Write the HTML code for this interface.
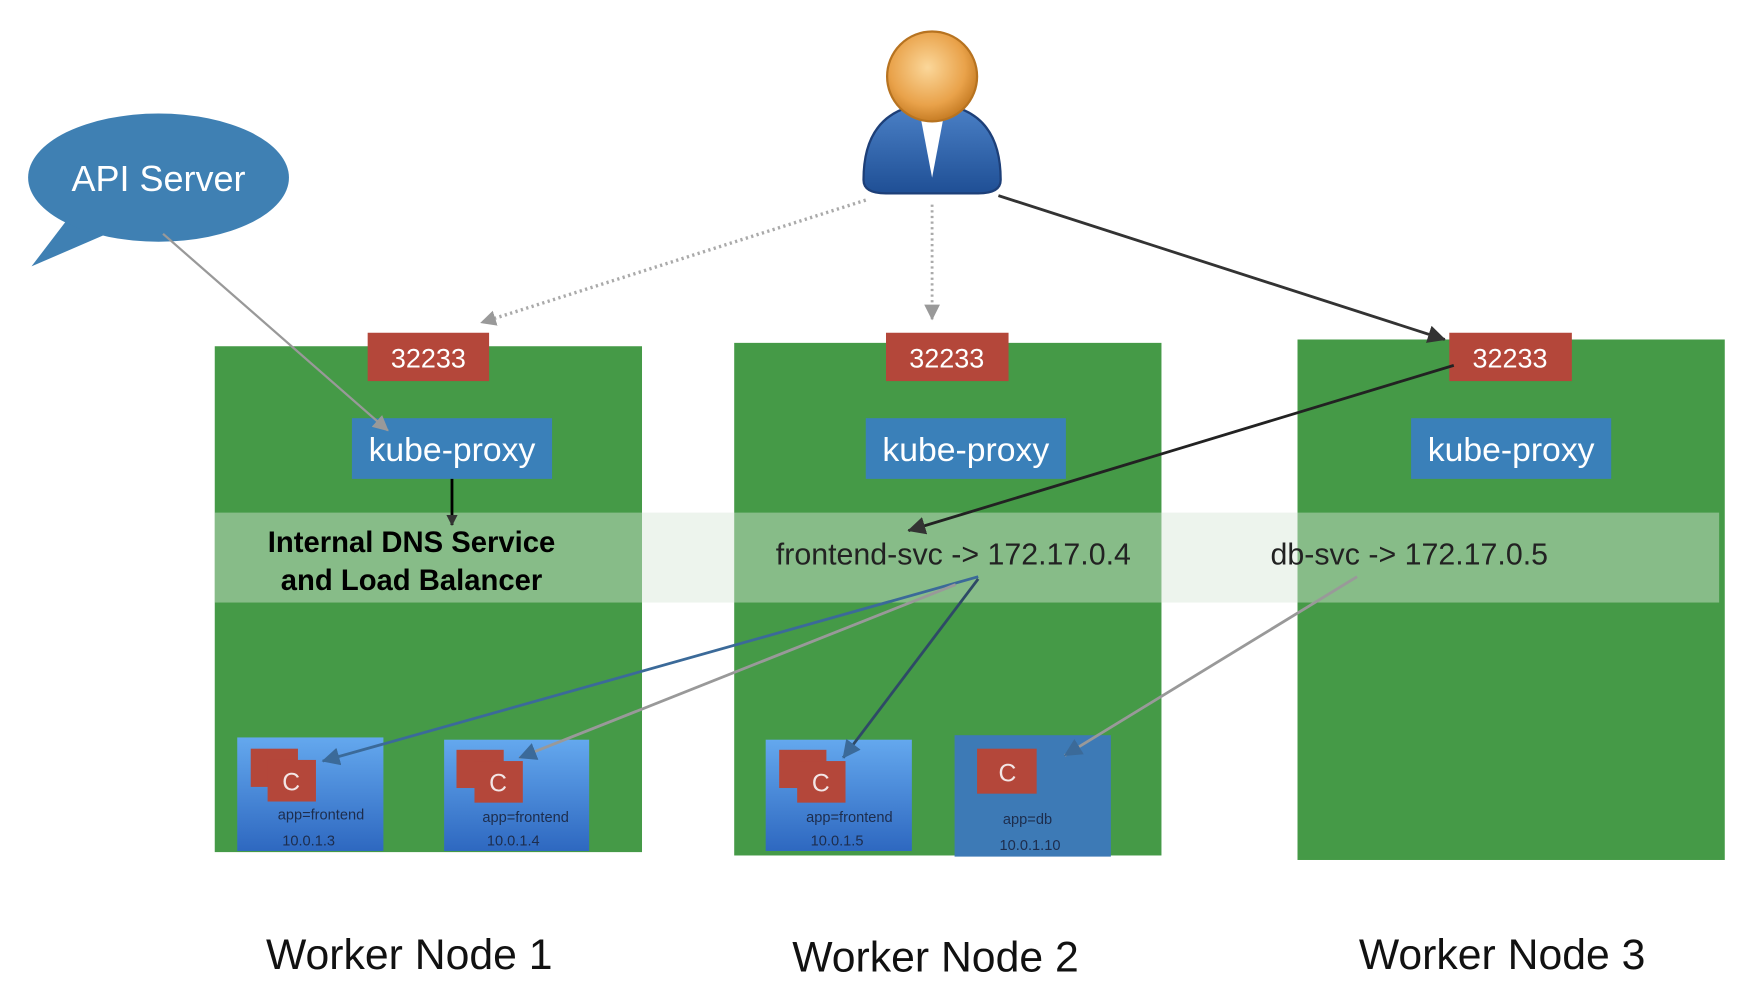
<!DOCTYPE html>
<html><head><meta charset="utf-8"><style>
html,body{margin:0;padding:0;background:#fff;}
svg{display:block;font-family:"Liberation Sans",sans-serif;}
</style></head><body>
<svg width="1754" height="996" viewBox="0 0 1560 886" preserveAspectRatio="none" xmlns="http://www.w3.org/2000/svg">
<defs>
<linearGradient id="pod" x1="0" y1="0" x2="0" y2="1"><stop offset="0" stop-color="#64a8ee"/><stop offset="1" stop-color="#2e68c0"/></linearGradient>
<radialGradient id="head" cx="0.45" cy="0.4" r="0.6"><stop offset="0" stop-color="#fbd79a"/><stop offset="0.7" stop-color="#e9a24a"/><stop offset="1" stop-color="#c77d25"/></radialGradient>
<linearGradient id="body" x1="0" y1="0" x2="0" y2="1"><stop offset="0" stop-color="#4c82c8"/><stop offset="1" stop-color="#1f4f95"/></linearGradient>
<marker id="ab" markerWidth="10" markerHeight="10" refX="9" refY="5" orient="auto" markerUnits="userSpaceOnUse"><path d="M0,0 L10,5 L0,10 z" fill="#333"/></marker>
<marker id="ag" markerWidth="14" markerHeight="14" refX="13" refY="7" orient="auto" markerUnits="userSpaceOnUse"><path d="M0,0 L14,7 L0,14 z" fill="#999"/></marker>
<marker id="ad" markerWidth="16" markerHeight="16" refX="15" refY="8" orient="auto" markerUnits="userSpaceOnUse"><path d="M0,0 L16,8 L0,16 z" fill="#333"/></marker>
<marker id="au" markerWidth="16" markerHeight="16" refX="15" refY="8" orient="auto" markerUnits="userSpaceOnUse"><path d="M0,0 L16,8 L0,16 z" fill="#3b6a99"/></marker>
</defs>

<!-- API bubble -->
<path d="M60,195 L28,237 L95,208 z" fill="#3f80b3"/>
<ellipse cx="141" cy="158" rx="116" ry="57" fill="#3f80b3"/>
<text x="141" y="170" font-size="32" fill="#fff" text-anchor="middle">API Server</text>

<!-- person -->
<path d="M768,160 Q768,95 829,92 Q890,95 890,160 Q890,172 870,172 L788,172 Q768,172 768,160 z" fill="url(#body)" stroke="#1d3f78" stroke-width="2"/>
<path d="M818,100 L829,158 L840,100 z" fill="#fff"/>
<circle cx="829" cy="68" r="40" fill="url(#head)" stroke="#b77320" stroke-width="2"/>

<!-- green nodes -->
<rect x="191" y="308" width="380" height="450" fill="#459a47"/>
<rect x="653" y="305" width="380" height="456" fill="#459a47"/>
<rect x="1154" y="302" width="380" height="463" fill="#459a47"/>

<!-- band -->
<rect x="191" y="456" width="1338" height="80" fill="#d6e6d6" fill-opacity="0.45"/>

<!-- ports -->
<g fill="#b4473a"><rect x="327" y="296" width="108" height="43"/><rect x="788" y="296" width="109" height="43"/><rect x="1289" y="296" width="109" height="43"/></g>
<g font-size="24" fill="#fff" text-anchor="middle"><text x="381" y="327">32233</text><text x="842" y="327">32233</text><text x="1343" y="327">32233</text></g>

<!-- kube-proxy -->
<g fill="#3a80b9"><rect x="313" y="372" width="178" height="54"/><rect x="770" y="372" width="178" height="54"/><rect x="1255" y="372" width="178" height="54"/></g>
<g font-size="30" fill="#fff" text-anchor="middle"><text x="402" y="410">kube-proxy</text><text x="859" y="410">kube-proxy</text><text x="1344" y="410">kube-proxy</text></g>

<!-- band text -->
<g font-size="26" font-weight="bold" fill="#000" text-anchor="middle"><text x="366" y="491">Internal DNS Service</text><text x="366" y="525">and Load Balancer</text></g>
<text x="690" y="502" font-size="27" fill="#222">frontend-svc -&gt; 172.17.0.4</text>
<text x="1130" y="502" font-size="27" fill="#222">db-svc -&gt; 172.17.0.5</text>

<!-- pods -->
<rect x="211" y="656" width="130" height="101" fill="url(#pod)"/>
<rect x="395" y="658" width="129" height="99" fill="url(#pod)"/>
<rect x="681" y="658" width="130" height="99" fill="url(#pod)"/>
<rect x="849" y="654" width="139" height="108" fill="#3d7ab6"/>
<g fill="#b4473a">
<rect x="223" y="666" width="42" height="34"/><rect x="238" y="676" width="43" height="37"/>
<rect x="406" y="667" width="42" height="34"/><rect x="422" y="677" width="43" height="37"/>
<rect x="693" y="667" width="42" height="34"/><rect x="709" y="677" width="43" height="37"/>
<rect x="869" y="666" width="53" height="40"/>
</g>
<g font-size="22" fill="#f3e6e6" text-anchor="middle"><text x="259" y="703">C</text><text x="443" y="704">C</text><text x="730" y="704">C</text><text x="896" y="695">C</text></g>
<g font-size="13" fill="#1d2d4d">
<text x="247" y="729">app=frontend</text><text x="251" y="752">10.0.1.3</text>
<text x="429" y="731">app=frontend</text><text x="433" y="752">10.0.1.4</text>
<text x="717" y="731">app=frontend</text><text x="721" y="752">10.0.1.5</text>
<text x="892" y="733">app=db</text><text x="889" y="756">10.0.1.10</text>
</g>

<!-- arrows -->
<line x1="145" y1="208" x2="345" y2="383" stroke="#999" stroke-width="2" marker-end="url(#ag)"/>
<line x1="402" y1="426" x2="402" y2="467" stroke="#000" stroke-width="2.5" marker-end="url(#ab)"/>
<line x1="770" y1="178" x2="428" y2="287" stroke="#aaa" stroke-width="3" stroke-dasharray="2,3" marker-end="url(#ag)"/>
<line x1="829" y1="182" x2="829" y2="284" stroke="#aaa" stroke-width="2.5" stroke-dasharray="2,3" marker-end="url(#ag)"/>
<line x1="888" y1="174" x2="1285" y2="302" stroke="#333" stroke-width="2.5" marker-end="url(#ad)"/>
<line x1="1293" y1="325" x2="808" y2="472" stroke="#222" stroke-width="2.5" marker-end="url(#ad)"/>
<line x1="870" y1="513" x2="287" y2="677" stroke="#3b6a99" stroke-width="2.5" marker-end="url(#au)"/>
<line x1="850" y1="520" x2="462" y2="674" stroke="#999" stroke-width="2.5" marker-end="url(#au)"/>
<line x1="870" y1="515" x2="750" y2="674" stroke="#2e4a66" stroke-width="2.5" marker-end="url(#au)"/>
<line x1="1207" y1="513" x2="947" y2="672" stroke="#999" stroke-width="2.5" marker-end="url(#au)"/>

<!-- labels -->
<g font-size="38" fill="#111" text-anchor="middle"><text x="364" y="862">Worker Node 1</text><text x="832" y="864">Worker Node 2</text><text x="1336" y="862">Worker Node 3</text></g>
</svg>
</body></html>
